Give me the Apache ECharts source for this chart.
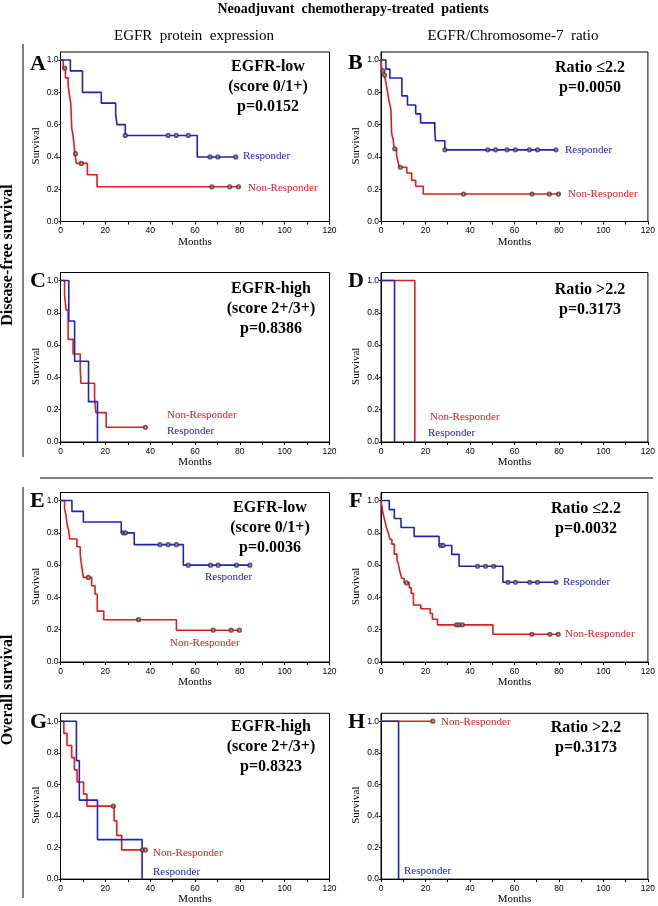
<!DOCTYPE html>
<html><head><meta charset="utf-8">
<script src="https://cdn.jsdelivr.net/npm/echarts@6/dist/echarts.min.js"></script>
<style>html,body{margin:0;padding:0;background:#fff}#c{width:658px;height:906px}</style>
</head><body><div id="c"></div>
<script>
// ---- Data: Kaplan-Meier steps [month, survival] and censor marks ----
const aResp = [[0,1],[4.4,0.933],[9.8,0.8],[18.2,0.733],[24.6,0.667],[25.2,0.6],[28.9,0.533],[61,0.4],[78.2,0.4]];
const aRespCens = [[28.9,0.533],[48,0.533],[51.6,0.533],[57,0.533],[66.7,0.4],[70.2,0.4],[78.2,0.4]];
const aNon = [[0,1],[1.2,0.95],[2.2,0.89],[3.4,0.85],[3.9,0.79],[4.6,0.73],[5,0.58],[5.6,0.53],[6.1,0.47],[6.4,0.42],[7.1,0.36],[12,0.29],[16.3,0.215],[79.4,0.215]];
const aNonCens = [[1.9,0.95],[6.7,0.42],[9.3,0.36],[67.5,0.215],[75.5,0.215],[79.4,0.215]];

const bResp = [[0,1],[2.2,0.944],[4,0.889],[9.4,0.778],[11.9,0.722],[15.6,0.667],[17.8,0.611],[24.2,0.556],[24.5,0.5],[28.7,0.444],[78.7,0.444]];
const bRespCens = [[28.7,0.444],[48,0.444],[51.5,0.444],[56.7,0.444],[60.4,0.444],[66.7,0.444],[70.4,0.444],[78.7,0.444]];
const bNon = [[0,1],[0.4,0.934],[1.5,0.907],[2.2,0.86],[3,0.8],[3.4,0.76],[4,0.726],[4.5,0.685],[4.6,0.62],[4.75,0.554],[5,0.533],[5.5,0.508],[5.9,0.45],[7,0.409],[7.6,0.373],[8.2,0.336],[11.6,0.3],[13.8,0.255],[15.6,0.218],[19,0.17],[79.8,0.17]];
const bNonCens = [[0.9,0.934],[1.6,0.907],[6.2,0.45],[8.7,0.336],[37.1,0.17],[67.9,0.17],[75.7,0.17],[79.8,0.17]];

const cResp = [[0,1],[3.7,0.75],[6.3,0.5],[12.5,0.25],[16.5,0]];
const cRespCens = [];
const cNon = [[0,1],[1.8,0.909],[2.5,0.818],[3.4,0.636],[5.6,0.545],[8.8,0.455],[9.1,0.364],[15.2,0.273],[15.8,0.182],[20.4,0.091],[37.9,0.091]];
const cNonCens = [[37.9,0.091]];

const dResp = [[0,1],[6.1,0]];
const dRespCens = [];
const dNon = [[0,1],[15.2,0]];
const dNonCens = [];

const eResp = [[0,1],[5.1,0.933],[10.2,0.867],[27.1,0.8],[32.9,0.727],[54.8,0.6],[84.5,0.6]];
const eRespCens = [[28,0.8],[29,0.8],[44.4,0.727],[48,0.727],[51.7,0.727],[57,0.6],[66.9,0.6],[70.3,0.6],[78.5,0.6],[84.5,0.6]];
const eNon = [[0,1],[1.8,0.95],[2.5,0.905],[2.9,0.857],[3.7,0.81],[4.1,0.762],[7.3,0.714],[8.8,0.667],[9.2,0.619],[9.7,0.571],[10.2,0.524],[13.9,0.472],[15.4,0.42],[16.4,0.315],[19.3,0.262],[51.7,0.197],[79.8,0.197]];
const eNonCens = [[12.4,0.524],[34.8,0.262],[68.1,0.197],[76.1,0.197],[79.8,0.197]];

const fResp = [[0,1],[3.7,0.944],[6,0.889],[9,0.833],[14.9,0.778],[26.1,0.722],[31.8,0.667],[35.1,0.593],[54.8,0.494],[78.7,0.494]];
const fRespCens = [[26.9,0.722],[27.9,0.722],[43.4,0.593],[47,0.593],[50.7,0.593],[57.1,0.494],[60.5,0.494],[66.9,0.494],[70.3,0.494],[78.7,0.494]];
const fNon = [[0,1],[0.3,0.977],[0.7,0.934],[1.3,0.9],[1.9,0.865],[2.5,0.83],[3.3,0.8],[4,0.76],[4.9,0.73],[6,0.668],[7.2,0.633],[7.9,0.6],[8.5,0.56],[9.3,0.519],[10.4,0.49],[12.7,0.46],[13.6,0.425],[14.6,0.353],[17.9,0.33],[22.1,0.3],[23.1,0.265],[25.4,0.23],[50.3,0.172],[79.7,0.172]];
const fNonCens = [[11.5,0.49],[33.9,0.23],[35.1,0.23],[36.6,0.23],[67.8,0.172],[75.9,0.172],[79.7,0.172]];

const gResp = [[0,1],[7.1,0.75],[8.4,0.5],[16.5,0.25],[36.4,0]];
const gRespCens = [];
const gNon = [[0,1],[1.5,0.923],[2.9,0.846],[5,0.769],[6.2,0.692],[7.4,0.615],[10.3,0.538],[11.8,0.462],[23.9,0.369],[25.1,0.277],[27.3,0.185],[37.9,0.185]];
const gNonCens = [[23.6,0.462],[36.6,0.185],[37.9,0.185]];

const hResp = [[0,1],[7.9,0]];
const hRespCens = [];
const hNon = [[0,1],[23.3,1]];
const hNonCens = [[23.3,1]];

const panelLetters = ['A','B','C','D','E','F','G','H'];
const annotations = [
  ['EGFR-low','(score 0/1+)','p=0.0152'],
  ['Ratio \u22642.2','p=0.0050'],
  ['EGFR-high','(score 2+/3+)','p=0.8386'],
  ['Ratio >2.2','p=0.3173'],
  ['EGFR-low','(score 0/1+)','p=0.0036'],
  ['Ratio \u22642.2','p=0.0032'],
  ['EGFR-high','(score 2+/3+)','p=0.8323'],
  ['Ratio >2.2','p=0.3173']
];
const xTicksMax = 120, xTickStep = 20;
const yTickStep = 0.2;

// ---- Layout ----
const SERIF = '"Liberation Serif","Times New Roman",serif';
const SANS = '"Liberation Sans",Arial,sans-serif';
const BLUE = '#2020c0', RED = '#e01c1c';
const tops = [52, 272.5, 492.5, 713.3];
const H = 169.5;
const lefts = [60.5, 381];
const widths = [269, 269.5];

const data = [
  [aResp,aRespCens,aNon,aNonCens],[bResp,bRespCens,bNon,bNonCens],
  [cResp,cRespCens,cNon,cNonCens],[dResp,dRespCens,dNon,dNonCens],
  [eResp,eRespCens,eNon,eNonCens],[fResp,fRespCens,fNon,fNonCens],
  [gResp,gRespCens,gNon,gNonCens],[hResp,hRespCens,hNon,hNonCens]
];

const grids = [], xAxes = [], yAxes = [], series = [], graphics = [];
for (let i = 0; i < 8; i++) {
  const row = Math.floor(i/2), col = i%2;
  grids.push({left: lefts[col], top: tops[row], width: widths[col], height: H,
    show: true, borderColor: '#000', borderWidth: 1, backgroundColor: 'transparent'});
  xAxes.push({type:'value', gridIndex:i, min:0, max:xTicksMax, interval:xTickStep,
    name:'Months', nameLocation:'middle', nameGap:14,
    nameTextStyle:{fontFamily:SERIF, fontSize:11, color:'#000', verticalAlign:'top'},
    axisLine:{lineStyle:{color:'#000', width:1}},
    axisTick:{show:true, length:3, lineStyle:{color:'#000'}},
    minorTick:{show:true, splitNumber:2, length:3, lineStyle:{color:'#000'}},
    splitLine:{show:false},
    axisLabel:{fontFamily:SANS, fontSize:8.5, color:'#000', margin:5}});
  yAxes.push({type:'value', gridIndex:i, min:0, max:1.05, interval:yTickStep,
    name:'Survival', nameLocation:'middle', nameGap:19, nameRotate:90,
    nameTextStyle:{fontFamily:SERIF, fontSize:11, color:'#000', padding:[0,18,0,0]},
    axisLine:{lineStyle:{color:'#000', width:1}},
    axisTick:{show:true, length:2, lineStyle:{color:'#000'}},
    splitLine:{show:false},
    axisLabel:{fontFamily:SANS, fontSize:8.5, color:'#000', margin:2, showMaxLabel:false,
      formatter: v => (v > 1.0001 ? '' : v.toFixed(1))}});
  const [r, rc, n, nc] = data[i];
  series.push({type:'line', xAxisIndex:i, yAxisIndex:i, data:n, step:'end', showSymbol:false,
    lineStyle:{color:RED, width:1.6}, silent:true, animation:false, z:2});
  series.push({type:'line', xAxisIndex:i, yAxisIndex:i, data:r, step:'end', showSymbol:false,
    lineStyle:{color:BLUE, width:1.6}, silent:true, animation:false, z:3});
  series.push({type:'scatter', xAxisIndex:i, yAxisIndex:i, data:nc, symbol:'emptyCircle', symbolSize:3.2,
    itemStyle:{color:'#5a3030', borderColor:'#5a3030', borderWidth:0.9}, silent:true, animation:false, z:4});
  series.push({type:'scatter', xAxisIndex:i, yAxisIndex:i, data:rc, symbol:'emptyCircle', symbolSize:3.2,
    itemStyle:{color:'#303060', borderColor:'#303060', borderWidth:0.9}, silent:true, animation:false, z:4});
}

function txt(x, y, s, opt) {
  graphics.push(Object.assign({type:'text', x:x, y:y, silent:true,
    style: Object.assign({text:s, fill:'#000', align:'left', verticalAlign:'middle',
      font: opt.font}, opt.style || {})}, opt.extra || {}));
}
// Title and column headers
txt(353, 9, 'Neoadjuvant  chemotherapy-treated  patients', {font:'bold 14px '+SERIF, style:{align:'center'}});
txt(194, 36, 'EGFR  protein  expression', {font:'15px '+SERIF, style:{align:'center'}});
txt(513, 36, 'EGFR/Chromosome-7  ratio', {font:'15px '+SERIF, style:{align:'center'}});

// Panel letters
const letterPos = [[30,64],[348,63],[30,281],[348,281],[30,501],[349,501],[30,722],[348,722]];
panelLetters.forEach((L, i) => txt(letterPos[i][0], letterPos[i][1], L, {font:'bold 22px '+SERIF}));

// Annotations
const annPos = [[268,67],[590,68],[271,289],[590,290],[270,508],[586,509],[271,727],[586,728]];
annotations.forEach((lines, i) => {
  lines.forEach((s, k) => txt(annPos[i][0], annPos[i][1] + k*20, s, {font:'bold 16px '+SERIF, style:{align:'center'}}));
});

// Curve labels [text, color, x, y]
const curveLabels = [
  ['Responder', BLUE, 243, 156], ['Non-Responder', RED, 248, 188],
  ['Responder', BLUE, 565, 150], ['Non-Responder', RED, 568, 194],
  ['Non-Responder', RED, 167, 415], ['Responder', BLUE, 167, 431],
  ['Non-Responder', RED, 430, 417], ['Responder', BLUE, 428, 433],
  ['Responder', BLUE, 205, 577], ['Non-Responder', RED, 170, 643],
  ['Responder', BLUE, 563, 582], ['Non-Responder', RED, 565, 634],
  ['Non-Responder', RED, 153, 853], ['Responder', BLUE, 153, 872],
  ['Non-Responder', RED, 441, 722], ['Responder', BLUE, 404, 871]
];
curveLabels.forEach(c => txt(c[2], c[3], c[0], {font:'11px '+SERIF, style:{fill:c[1]}}));

// Section brackets and labels
graphics.push({type:'line', silent:true, shape:{x1:23,y1:44,x2:23,y2:457}, style:{stroke:'#000', lineWidth:1}});
graphics.push({type:'line', silent:true, shape:{x1:23,y1:487,x2:23,y2:898}, style:{stroke:'#000', lineWidth:1}});
graphics.push({type:'line', silent:true, shape:{x1:40,y1:478,x2:653,y2:478}, style:{stroke:'#000', lineWidth:1}});
txt(8, 255, 'Disease-free survival', {font:'bold 16px '+SERIF, style:{align:'center'}, extra:{rotation:Math.PI/2}});
txt(8, 690, 'Overall survival', {font:'bold 16px '+SERIF, style:{align:'center'}, extra:{rotation:Math.PI/2}});

const chart = echarts.init(document.getElementById('c'), null, {renderer:'canvas'});
chart.setOption({animation:false, backgroundColor:'#fff', grid:grids, xAxis:xAxes, yAxis:yAxes, series:series, graphic:graphics});
</script></body></html>
